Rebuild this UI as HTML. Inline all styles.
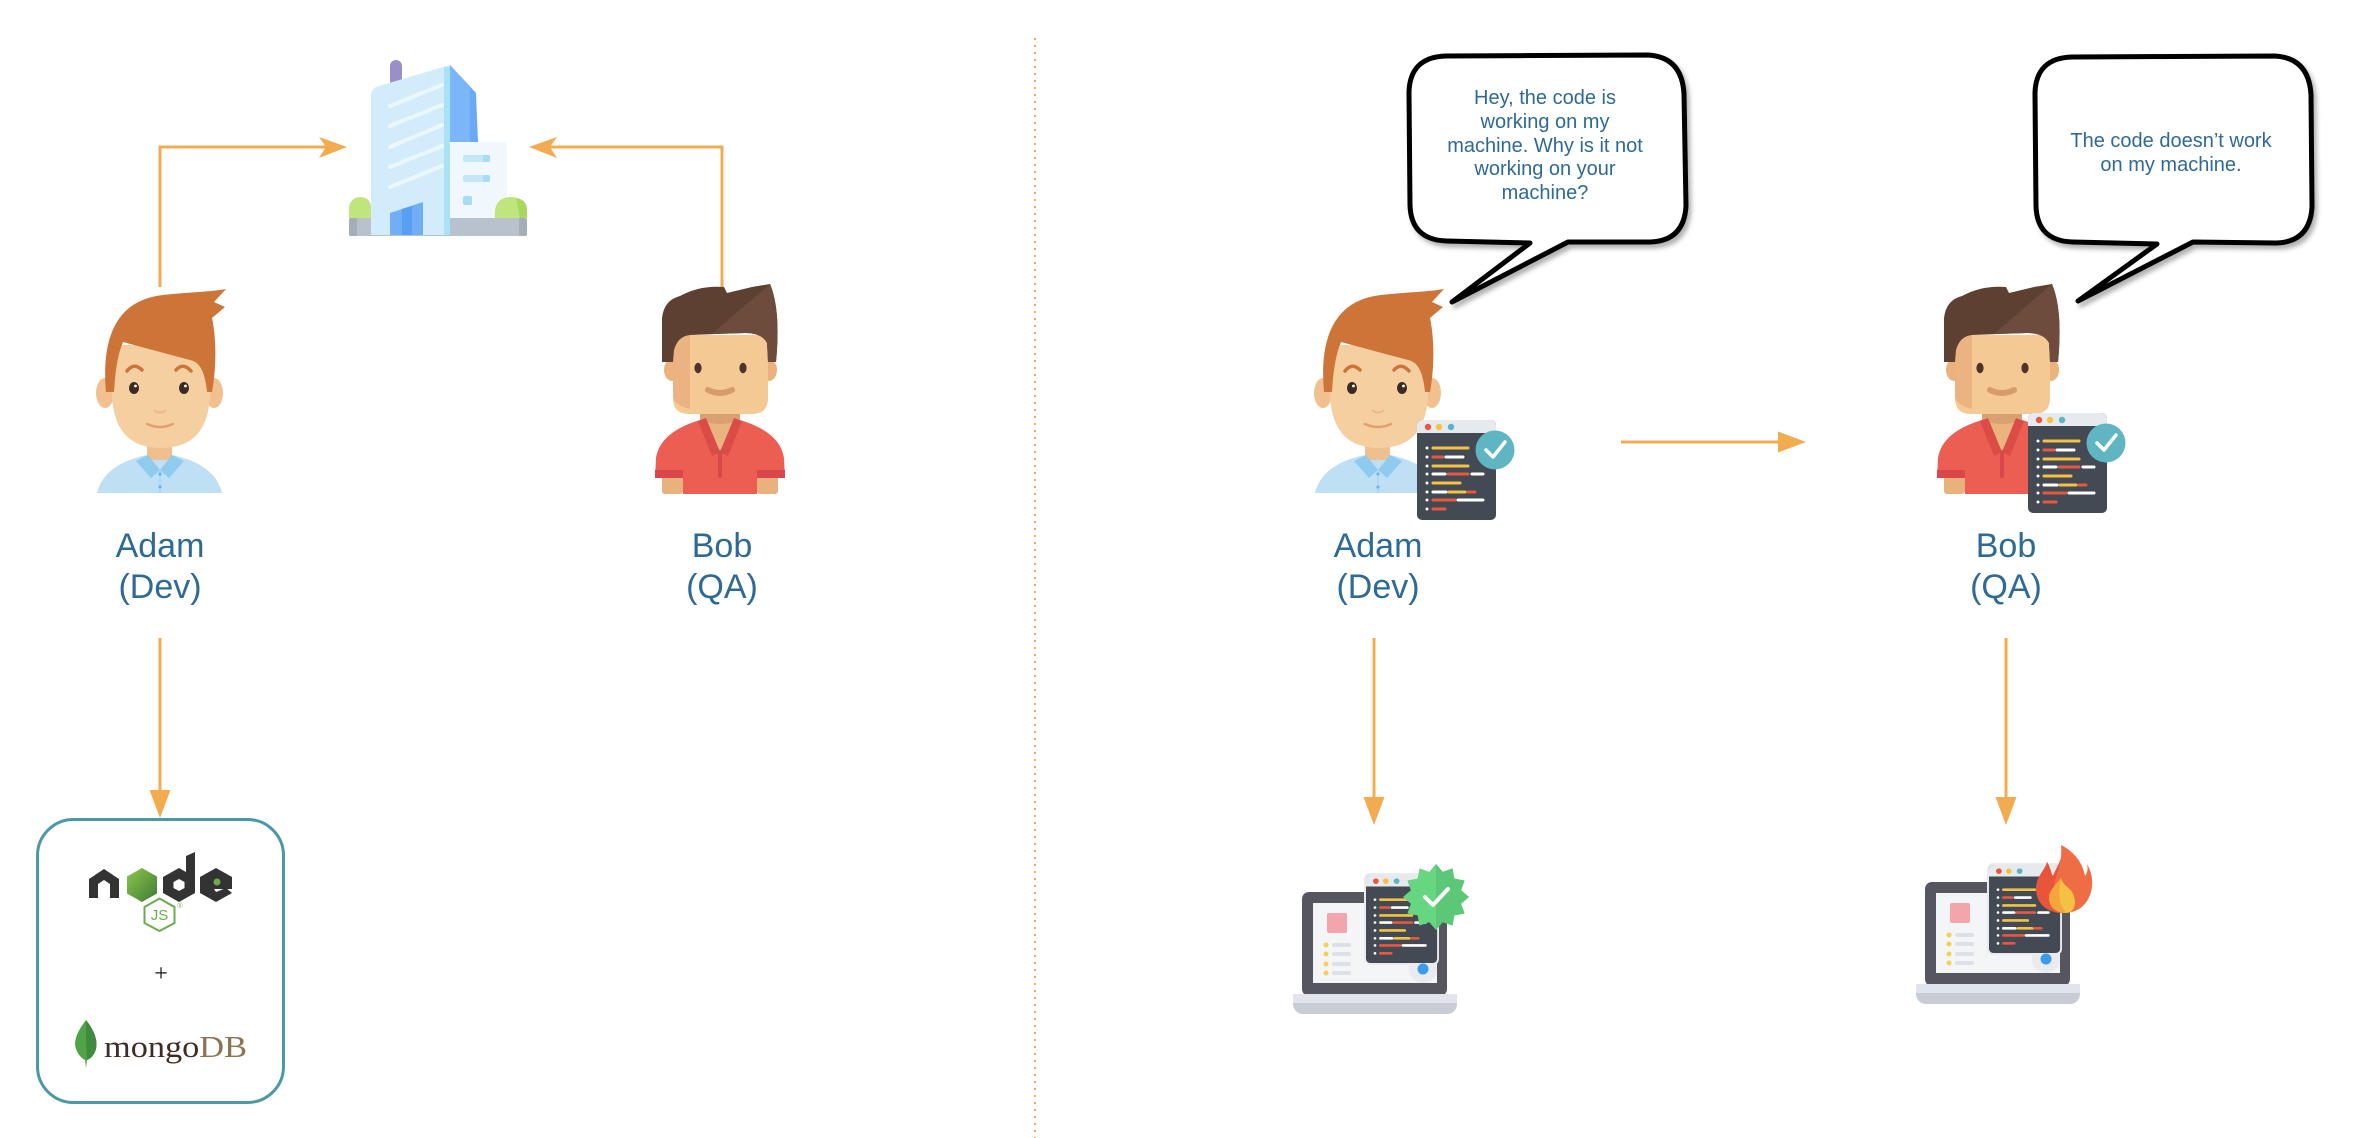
<!DOCTYPE html>
<html>
<head>
<meta charset="utf-8">
<style>
  html, body { margin:0; padding:0; background:#ffffff; }
  body { width:2360px; height:1138px; overflow:hidden; }
  svg { display:block; }
  .lbl { font-family:"Liberation Sans", Arial, sans-serif; font-size:34px; fill:#2d6a96; }
  .bub { font-family:"Liberation Sans", Arial, sans-serif; font-size:20px; fill:#2d6a96; }
</style>
</head>
<body>
<svg width="2360" height="1138" viewBox="0 0 2360 1138" xmlns="http://www.w3.org/2000/svg">
  <defs>
    <filter id="sh" x="-10%" y="-10%" width="130%" height="130%">
      <feDropShadow dx="3" dy="4" stdDeviation="2.5" flood-color="#000" flood-opacity="0.3"/>
    </filter>
    <linearGradient id="ng" x1="0" y1="0" x2="1" y2="1">
      <stop offset="0" stop-color="#8cc84b"/>
      <stop offset="1" stop-color="#3f7a36"/>
    </linearGradient>

    <!-- Adam (left coords) -->
    <g id="adam">
      <!-- shirt -->
      <path d="M97,493 Q104,464 147,455 L172,455 Q215,464 222,493 Z" fill="#bfdff5"/>
      <!-- neck -->
      <rect x="147" y="438" width="25" height="22" fill="#efbf8e"/>
      <!-- collar -->
      <polygon points="136,461 148,455 160,470 151,478" fill="#8ecbef"/>
      <polygon points="184,461 172,455 160,470 169,478" fill="#8ecbef"/>
      <line x1="160" y1="470" x2="160" y2="493" stroke="#a9d4f1" stroke-width="1.5"/>
      <circle cx="160" cy="474" r="1.6" fill="#6fb4e4"/>
      <circle cx="160" cy="487" r="1.6" fill="#6fb4e4"/>
      <!-- ears -->
      <ellipse cx="105" cy="393" rx="9" ry="15" fill="#f2c08e"/>
      <ellipse cx="214" cy="393" rx="9" ry="15" fill="#f2c08e"/>
      <!-- face -->
      <path d="M112,345 L112,395 Q114,448 161,448 Q208,448 210,395 L210,345 Z" fill="#f5cfa0"/>
      <!-- hair -->
      <path d="M106,392 C101,335 118,300 163,295 C190,292 210,292 226,289 L214,302 L225,307 L212,318 C217,342 216,370 212,392 L207,392 C205,372 200,362 190,360 L123,342 C117,356 115,375 114,392 Z" fill="#cd7439"/>
      <!-- eyebrows -->
      <path d="M127,371 Q134,362 142,370" stroke="#cd7439" stroke-width="3.5" fill="none" stroke-linecap="round"/>
      <path d="M176,370 Q183,362 191,371" stroke="#cd7439" stroke-width="3.5" fill="none" stroke-linecap="round"/>
      <!-- eyes -->
      <ellipse cx="134" cy="388" rx="5" ry="6" fill="#3a2a25"/>
      <ellipse cx="184" cy="388" rx="5" ry="6" fill="#3a2a25"/>
      <circle cx="135.5" cy="386" r="1.4" fill="#fff"/>
      <circle cx="185.5" cy="386" r="1.4" fill="#fff"/>
      <!-- nose & smile -->
      <path d="M154,410 Q160,415 166,410" stroke="#eab888" stroke-width="2" fill="none"/>
      <path d="M147,424 Q160,430 173,424" stroke="#e39f6c" stroke-width="2.6" fill="none" stroke-linecap="round"/>
    </g>

    <!-- Bob (left coords) -->
    <g id="bob">
      <!-- arms skin -->
      <rect x="662" y="474" width="21" height="20" rx="3" fill="#e9b27c"/>
      <rect x="757" y="474" width="21" height="20" rx="3" fill="#e9b27c"/>
      <!-- shirt -->
      <path d="M655,478 L656,458 Q660,432 700,420 L740,420 Q780,432 784,458 L785,478 L757,478 L757,494 L683,494 L683,478 Z" fill="#ec5e52"/>
      <rect x="655" y="470" width="28" height="8" fill="#d9474a"/>
      <rect x="757" y="470" width="28" height="8" fill="#d9474a"/>
      <!-- neck -->
      <path d="M700,405 L740,405 L740,422 L720,452 L700,422 Z" fill="#ebb47f"/>
      <path d="M700,408 L740,408 L740,420 Q720,428 700,420 Z" fill="#d9a172"/>
      <!-- collar -->
      <polygon points="698,421 706,418 720,452 712,456" fill="#dc4c47"/>
      <polygon points="742,421 734,418 720,452 728,456" fill="#dc4c47"/>
      <line x1="720" y1="452" x2="720" y2="476" stroke="#d9474a" stroke-width="4" stroke-linecap="round"/>
      <!-- ears -->
      <ellipse cx="672" cy="370" rx="8" ry="11" fill="#ebb27d"/>
      <ellipse cx="769" cy="370" rx="8" ry="11" fill="#ebb27d"/>
      <!-- face -->
      <path d="M673,335 L768,335 L768,398 Q768,414 752,414 L689,414 Q673,414 673,398 Z" fill="#f5c994"/>
      <path d="M673,335 L690,335 L690,409 Q673,405 673,395 Z" fill="#ebb382"/>
      <!-- hair -->
      <path d="M662,362 L662,318 Q664,300 680,296 Q700,285 724,287 L727,293 L752,287 L770,284 Q781,310 776,362 L768,362 L767,343 Q762,333 745,333 L690,335 Q678,336 674,350 L673,362 Z" fill="#5e4032"/>
      <path d="M770,284 Q781,310 776,362 L768,362 L767,343 Q762,333 745,333 L712,334 Z" fill="#6e4c3d"/>
      <!-- eyes -->
      <ellipse cx="698" cy="368" rx="3.6" ry="5.2" fill="#4b352a"/>
      <ellipse cx="743" cy="368" rx="3.6" ry="5.2" fill="#4b352a"/>
      <!-- smile -->
      <path d="M708,390 Q720,396 732,390" stroke="#d99a6c" stroke-width="6" fill="none" stroke-linecap="round"/>
    </g>

    <!-- code window 79x100 -->
    <g id="code">
      <rect x="0" y="0" width="79" height="100" rx="5" fill="#434a54"/>
      <path d="M0,13 V5 A5,5 0 0 1 5,0 H74 A5,5 0 0 1 79,5 V13 Z" fill="#e6e9ed"/>
      <circle cx="11" cy="7" r="3.2" fill="#e8573f"/>
      <circle cx="22" cy="7" r="3.2" fill="#f5c342"/>
      <circle cx="34" cy="7" r="3.2" fill="#5bb5c1"/>
      <g fill="#ffffff">
        <circle cx="10" cy="28" r="1.5"/><circle cx="10" cy="37" r="1.5"/>
        <circle cx="10" cy="46" r="1.5"/><circle cx="10" cy="54" r="1.5"/>
        <circle cx="10" cy="63" r="1.5"/><circle cx="10" cy="72" r="1.5"/>
        <circle cx="10" cy="80" r="1.5"/><circle cx="10" cy="89" r="1.5"/>
      </g>
      <g stroke-width="3" stroke-linecap="round">
        <line x1="16" y1="28" x2="51" y2="28" stroke="#f5c342"/>
        <line x1="16" y1="37" x2="26" y2="37" stroke="#e8573f"/>
        <line x1="29" y1="37" x2="46" y2="37" stroke="#ffffff"/>
        <line x1="16" y1="46" x2="51" y2="46" stroke="#f5c342"/>
        <line x1="16" y1="54" x2="28" y2="54" stroke="#ffffff"/>
        <line x1="31" y1="54" x2="51" y2="54" stroke="#e8573f"/>
        <line x1="55" y1="54" x2="66" y2="54" stroke="#ffffff"/>
        <line x1="16" y1="63" x2="43" y2="63" stroke="#f5c342"/>
        <line x1="16" y1="72" x2="29" y2="72" stroke="#ffffff"/>
        <line x1="32" y1="72" x2="48" y2="72" stroke="#f5c342"/>
        <line x1="51" y1="72" x2="58" y2="72" stroke="#e8573f"/>
        <line x1="16" y1="80" x2="38" y2="80" stroke="#e8573f"/>
        <line x1="41" y1="80" x2="66" y2="80" stroke="#ffffff"/>
        <line x1="16" y1="89" x2="28" y2="89" stroke="#e8573f"/>
      </g>
    </g>

    <g id="check">
      <circle cx="78" cy="30" r="19.5" fill="#5fb6c2"/>
      <path d="M69,30 L76,37 L88,22" stroke="#ffffff" stroke-width="3.5" fill="none" stroke-linecap="round" stroke-linejoin="round"/>
    </g>

    <!-- laptop, local origin = screen top-left -->
    <g id="laptop">
      <rect x="0" y="0" width="145" height="104" rx="7" fill="#55565f"/>
      <rect x="11" y="11" width="124" height="80" fill="#f4f5f7"/>
      <path d="M-9,102 H155 V112 A10,10 0 0 1 145,122 H1 A10,10 0 0 1 -9,112 Z" fill="#c8ccd4"/>
      <rect x="-9" y="102" width="164" height="9" fill="#e1e4ea"/>
      <rect x="25" y="21" width="20" height="20" rx="2" fill="#f2a5aa"/>
      <g fill="#f7cf52">
        <circle cx="24" cy="53" r="2.5"/><circle cx="24" cy="62" r="2.5"/>
        <circle cx="24" cy="72" r="2.5"/><circle cx="24" cy="81" r="2.5"/>
      </g>
      <g stroke="#dde0e6" stroke-width="4" stroke-linecap="round">
        <line x1="32" y1="53" x2="47" y2="53"/><line x1="32" y1="62" x2="47" y2="62"/>
        <line x1="32" y1="72" x2="47" y2="72"/><line x1="32" y1="81" x2="47" y2="81"/>
      </g>
      <circle cx="121" cy="77" r="14" fill="#e9ebef"/>
      <rect x="62" y="-19" width="75" height="92" rx="6" fill="#e9ebef"/>
      <use href="#code" transform="translate(64,-17) scale(0.9,0.88)"/>
      <circle cx="121" cy="77" r="5.5" fill="#3a9bea"/>
    </g>
  </defs>

  <!-- ============ LEFT SIDE ============ -->

  <!-- Building -->
  <g>
    <rect x="390" y="60" width="12" height="28" rx="6" fill="#9b8fc9"/>
    <path d="M371,96 Q371,88 379,86 L450,65 L450,235 L371,235 Z" fill="#d2ecfb"/>
    <rect x="444" y="67" width="6" height="168" fill="#a9e1f7"/>
    <path d="M450,65 L476,93 L478,142 L450,142 Z" fill="#6aa9f5"/>
    <path d="M450,65 L470,88 L470,142 L450,142 Z" fill="#7db6f8"/>
    <g stroke="#eaf7fd" stroke-width="4" stroke-linecap="round">
      <line x1="390" y1="106" x2="442" y2="85"/>
      <line x1="390" y1="126" x2="442" y2="105"/>
      <line x1="390" y1="147" x2="442" y2="125"/>
      <line x1="390" y1="167" x2="442" y2="146"/>
      <line x1="390" y1="187" x2="442" y2="166"/>
    </g>
    <path d="M450,142 L502,142 Q507,142 507,147 L507,218 L450,218 Z" fill="#f1f8fd"/>
    <rect x="463" y="155" width="27" height="7" rx="2" fill="#c4e7f8"/>
    <rect x="483" y="155" width="7" height="7" rx="2" fill="#a6dcf5"/>
    <rect x="463" y="175" width="27" height="7" rx="2" fill="#c4e7f8"/>
    <rect x="483" y="175" width="7" height="7" rx="2" fill="#a6dcf5"/>
    <rect x="463" y="196" width="9" height="9" rx="2" fill="#a6dcf5"/>
    <rect x="349" y="218" width="178" height="18" rx="3" fill="#b8c2cc"/>
    <rect x="349" y="218" width="8" height="18" rx="2" fill="#a4aeb8"/>
    <rect x="519" y="218" width="8" height="18" rx="2" fill="#a4aeb8"/>
    <path d="M349,218 L349,207 Q351,197 361,197 Q371,198 371,208 L371,218 Z" fill="#bfe57c"/>
    <path d="M495,218 L495,210 Q497,197 511,197 Q527,198 527,210 L527,218 Z" fill="#bfe57c"/>
    <path d="M516,198 Q527,200 527,210 L527,218 L520,218 Z" fill="#a8d85e"/>
    <path d="M371,235 L450,235 L450,218 L371,218 Z" fill="#d2ecfb"/>
    <rect x="444" y="218" width="6" height="17" fill="#a9e1f7"/>
    <path d="M390,213 L423,202 L423,235 L390,235 Z" fill="#72aef5"/>
    <path d="M402,209 L412,206 L412,235 L402,235 Z" fill="#5a9ef2"/>
  </g>

  <!-- Left connectors -->
  <g stroke="#f2ac4f" stroke-width="3" fill="none">
    <polyline points="160,287 160,147 330,147"/>
    <polyline points="722,287 722,147 546,147"/>
    <line x1="160" y1="638" x2="160" y2="795"/>
  </g>
  <g fill="#f2ac4f">
    <path d="M347,147 L319,137 L326,147 L319,158 Z"/>
    <path d="M529,147 L557,137 L550,147 L557,158 Z"/>
    <polygon points="149.5,790 170.5,790 160,818"/>
  </g>

  <use href="#adam"/>
  <use href="#bob"/>

  <text class="lbl" x="160" y="557" text-anchor="middle">Adam</text>
  <text class="lbl" x="160" y="598" text-anchor="middle">(Dev)</text>
  <text class="lbl" x="722" y="557" text-anchor="middle">Bob</text>
  <text class="lbl" x="722" y="598" text-anchor="middle">(QA)</text>

  <!-- Tech box -->
  <rect x="37.5" y="819.5" width="246" height="283" rx="36" fill="#ffffff" stroke="#4a98a8" stroke-width="3"/>
  <!-- node logo -->
  <g>
    <path d="M89,898 V879 L104,869 L119,879 V898 H110 V884 L104,880 L98,884 V898 Z" fill="#333333"/>
    <polygon points="142,868 157,876.5 157,893.5 142,902 127,893.5 127,876.5" fill="url(#ng)"/>
    <path fill-rule="evenodd" d="M195,852 V893 L179,902 L163,893 V877 L179,868 L186,872 V856 Z M179,879 L184.5,882 V888 L179,891 L173.5,888 V882 Z" fill="#333333"/>
    <path d="M216,868 L232,877 V889 L214,889 L216,892 L226,888 L232,893 L216,902 L200,893 V877 Z" fill="#333333"/>
    <circle cx="217" cy="882" r="3.5" fill="#6cab4c"/>
    <polygon points="159.5,898.5 174.5,907 174.5,923 159.5,931 144.5,923 144.5,907" fill="none" stroke="#6aac4f" stroke-width="2"/>
    <text x="159.5" y="920" text-anchor="middle" font-family="Liberation Sans, Arial, sans-serif" font-size="15" fill="#6aac4f">JS</text>
    <text x="180" y="908" text-anchor="middle" font-family="Liberation Sans, Arial, sans-serif" font-size="7" fill="#6aac4f">®</text>
  </g>
  <text x="161" y="981" text-anchor="middle" font-family="Liberation Serif, serif" font-size="24" fill="#111">+</text>
  <!-- mongo -->
  <path d="M86,1020 C94,1030 98,1040 96,1049 C94,1056 90,1059 87,1060 L86,1068 L85,1060 C81,1058 76,1053 75,1044 C75,1036 80,1028 86,1020 Z" fill="#4fa348"/>
  <path d="M86,1020 C94,1030 98,1040 96,1049 C94,1056 90,1059 87,1060 L86,1040 Z" fill="#3f8a3c"/>
  <text x="104" y="1057" font-family="Liberation Serif, serif" font-size="31" textLength="143" lengthAdjust="spacingAndGlyphs"><tspan fill="#3f2c24">mongo</tspan><tspan fill="#8b7354">DB</tspan></text>

  <!-- Dotted divider -->
  <line x1="1035" y1="38" x2="1035" y2="1138" stroke="#f2a463" stroke-width="2" stroke-dasharray="2,5"/>

  <!-- ============ RIGHT SIDE ============ -->

  <!-- Speech bubbles -->
  <g filter="url(#sh)">
    <path d="M1530,243 L1447,241 Q1411,240 1410,205 L1409,92 Q1410,57 1446,56 L1648,55 Q1682,57 1684,94 L1686,206 Q1684,241 1650,242 L1568,242 L1452,302 Z" fill="#ffffff" stroke="#000" stroke-width="5" stroke-linejoin="round"/>
    <path d="M2157,244 L2073,242 Q2037,241 2036,206 L2035,93 Q2036,58 2072,57 L2275,56 Q2309,58 2311,95 L2312,207 Q2310,242 2276,243 L2193,242 L2078,301 Z" fill="#ffffff" stroke="#000" stroke-width="5" stroke-linejoin="round"/>
  </g>
  <g class="bub" text-anchor="middle">
    <text class="bub" x="1545" y="104" text-anchor="middle">Hey, the code is</text>
    <text class="bub" x="1545" y="128" text-anchor="middle">working on my</text>
    <text class="bub" x="1545" y="152" text-anchor="middle">machine. Why is it not</text>
    <text class="bub" x="1545" y="175" text-anchor="middle">working on your</text>
    <text class="bub" x="1545" y="199" text-anchor="middle">machine?</text>
    <text class="bub" x="2171" y="147" text-anchor="middle">The code doesn’t work</text>
    <text class="bub" x="2171" y="171" text-anchor="middle">on my machine.</text>
  </g>

  <!-- persons right -->
  <use href="#adam" transform="translate(1218,0)"/>
  <use href="#code" transform="translate(1417,420)"/>
  <use href="#check" transform="translate(1417,420)"/>

  <use href="#bob" transform="translate(1282,0)"/>
  <use href="#code" transform="translate(2028,413)"/>
  <use href="#check" transform="translate(2028,413)"/>

  <text class="lbl" x="1378" y="557" text-anchor="middle">Adam</text>
  <text class="lbl" x="1378" y="598" text-anchor="middle">(Dev)</text>
  <text class="lbl" x="2006" y="557" text-anchor="middle">Bob</text>
  <text class="lbl" x="2006" y="598" text-anchor="middle">(QA)</text>

  <!-- right connectors -->
  <g stroke="#f2ac4f" stroke-width="3" fill="none">
    <line x1="1621" y1="442" x2="1780" y2="442"/>
    <line x1="1374" y1="638" x2="1374" y2="800"/>
    <line x1="2006" y1="638" x2="2006" y2="800"/>
  </g>
  <g fill="#f2ac4f">
    <polygon points="1778,431.5 1778,452.5 1806,442"/>
    <polygon points="1363.5,797 1384.5,797 1374,825"/>
    <polygon points="1995.5,797 2016.5,797 2006,825"/>
  </g>

  <!-- laptops -->
  <use href="#laptop" transform="translate(1302,892)"/>
  <g transform="translate(1436,897)">
    <polygon points="0,-33 6.73,-25.11 16.5,-28.58 18.38,-18.38 28.58,-16.5 25.11,-6.73 33,0 25.11,6.73 28.58,16.5 18.38,18.38 16.5,28.58 6.73,25.11 0,33 -6.73,25.11 -16.5,28.58 -18.38,18.38 -28.58,16.5 -25.11,6.73 -33,0 -25.11,-6.73 -28.58,-16.5 -18.38,-18.38 -16.5,-28.58 -6.73,-25.11" fill="#66d681"/>
    <polygon points="0,-33 6.73,-25.11 16.5,-28.58 18.38,-18.38 28.58,-16.5 25.11,-6.73 33,0 25.11,6.73 28.58,16.5 18.38,18.38 16.5,28.58 6.73,25.11 0,33" fill="#5cc776"/>
    <path d="M-11,0 L-3,8 L12,-8" stroke="#ffffff" stroke-width="4" fill="none" stroke-linecap="round" stroke-linejoin="round"/>
  </g>

  <use href="#laptop" transform="translate(1925,882)"/>
  <g transform="translate(1925,882)">
    <path d="M138,31 C118,31 108,16 112,0 C114,-8 120,-12 122,-20 C126,-14 126,-8 128,-6 C132,-16 140,-26 136,-37 C150,-30 158,-18 160,-6 C163,-10 163,-14 162,-18 C168,-8 168,2 166,10 C162,24 152,31 138,31 Z" fill="#ef6d45"/>
    <path d="M138,31 C118,31 108,16 112,0 C114,-8 120,-12 122,-20 C126,-14 126,-8 128,-6 C132,-16 140,-26 136,-37 C138,-20 130,-4 128,8 C126,20 130,28 138,31 Z" fill="#e9553b"/>
    <path d="M141,31 C131,31 124,25 124,16 C124,8 132,2 136,-4 C138,4 146,6 148,12 C152,20 150,31 141,31 Z" fill="#f6c143"/>
    <path d="M141,31 C131,31 124,25 124,16 C124,8 132,2 136,-4 C134,8 132,20 141,31 Z" fill="#f4a53d"/>
  </g>
</svg>
</body>
</html>
